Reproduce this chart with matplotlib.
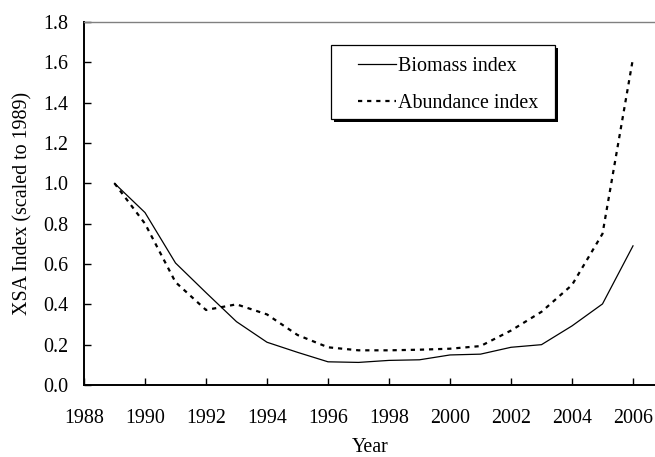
import matplotlib
matplotlib.use("Agg")
import matplotlib.pyplot as plt
from matplotlib.patches import Rectangle

years = [1989, 1990, 1991, 1992, 1993, 1994, 1995, 1996, 1997,
         1998, 1999, 2000, 2001, 2002, 2003, 2004, 2005, 2006]
biomass = [1.00, 0.855, 0.605, 0.458, 0.314, 0.212, 0.162, 0.115, 0.112,
           0.122, 0.125, 0.149, 0.153, 0.187, 0.200, 0.293, 0.402, 0.690]
abundance = [1.00, 0.80, 0.51, 0.372, 0.400, 0.350, 0.248, 0.187, 0.172,
             0.172, 0.175, 0.180, 0.193, 0.270, 0.363, 0.496, 0.750, 1.620]
xticks = [1988, 1990, 1992, 1994, 1996, 1998, 2000, 2002, 2004, 2006]
yticks = [0.0, 0.2, 0.4, 0.6, 0.8, 1.0, 1.2, 1.4, 1.6, 1.8]

plt.rcParams['font.family'] = ['Liberation Serif', 'DejaVu Serif']
fs = 14.4

fig = plt.figure(figsize=(6.55, 4.57), dpi=100)
W, H = 655, 457
ax = fig.add_axes([84 / W, (H - 385) / H, 610 / W, 363 / H])

ax.plot(years, biomass, color='black', lw=0.9, label='Biomass index')
ax.plot(years, abundance, color='black', lw=1.6, linestyle=(0, (1.9, 2.2)),
        dash_capstyle='butt', label='Abundance index')

ax.set_xlim(1988, 2008)
ax.set_ylim(0, 1.8)
ax.set_xticks(xticks)
ax.set_xticklabels([str(t) for t in xticks], fontsize=fs)
ax.set_yticks(yticks)
ax.set_yticklabels([f"{t:.1f}" for t in yticks], fontsize=fs)
ax.tick_params(direction='in', length=5, width=1.0)
ax.tick_params(axis='y', pad=11)
ax.tick_params(axis='x', pad=17)

for s in ['left', 'bottom']:
    ax.spines[s].set_linewidth(1.4)
    ax.spines[s].set_color('black')
ax.spines['top'].set_color('#808080')
ax.spines['top'].set_linewidth(1.0)
ax.spines['right'].set_visible(False)

ax.set_xlabel('Year', fontsize=fs)
ax.set_ylabel('XSA Index (scaled to 1989)', fontsize=fs)
ax.xaxis.set_label_coords((370 - 84) / 610, -(438 - 385) / 363)
ax.yaxis.set_label_coords(-(84 - 32) / 610, 0.5)

# legend frame with solid shadow
ax.add_patch(Rectangle((334 / W, 1 - 122 / H), 224 / W, 74 / H,
                       transform=fig.transFigure, facecolor='black',
                       edgecolor='none', zorder=5, clip_on=False))
ax.add_patch(Rectangle((331 / W, 1 - 119 / H), 224 / W, 74 / H,
                       transform=fig.transFigure, facecolor='white',
                       edgecolor='black', linewidth=0.9, zorder=6,
                       clip_on=False))

leg = ax.legend(loc='upper left', frameon=False,
                bbox_to_anchor=(358 / W, 1 - 57 / H),
                bbox_transform=fig.transFigure,
                borderaxespad=0, borderpad=0, fontsize=fs,
                handlelength=1.9, handletextpad=0.1, labelspacing=0.92)
leg.set_zorder(10)

fig.savefig('out.png', dpi=100)
